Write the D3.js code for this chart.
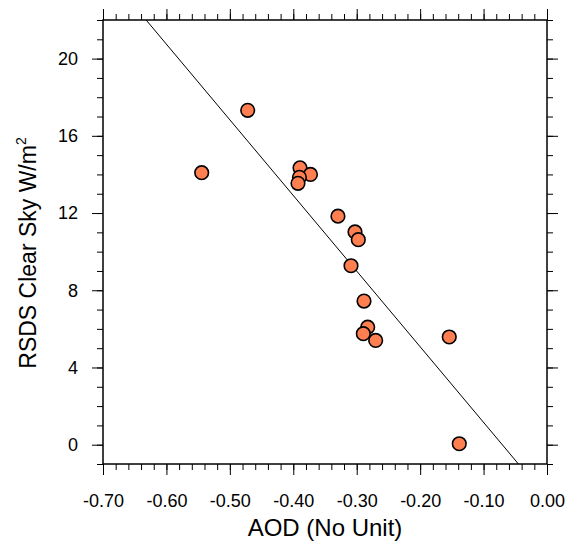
<!DOCTYPE html>
<html>
<head>
<meta charset="utf-8">
<script src="https://cdn.jsdelivr.net/npm/d3@7"></script>
<style>
  html, body { margin: 0; padding: 0; background: #fff; }
  svg { display: block; }
  text { font-family: "Liberation Sans", Arial, Helvetica, sans-serif; fill: #000; }
</style>
</head>
<body>
<svg id="chart" width="567" height="547"></svg>
<script>
// ---- data ----
const aod   = [-0.4719, -0.5444, -0.3894, -0.3729, -0.3903, -0.3926, -0.3296, -0.3027, -0.2975, -0.3090, -0.2885, -0.2827, -0.2896, -0.2701, -0.1541, -0.1383];
const rsds  = [17.32, 14.09, 14.34, 14.00, 13.85, 13.54, 11.84, 11.02, 10.62, 9.27, 7.44, 6.09, 5.75, 5.40, 5.58, 0.05];
const fitX  = [-0.632, -0.045];
const fitY  = [22, -1];
const xTicks = [-0.7, -0.6, -0.5, -0.4, -0.3, -0.2, -0.1, 0.0];
const xTickLabels = ["-0.70", "-0.60", "-0.50", "-0.40", "-0.30", "-0.20", "-0.10", "0.00"];
const yTicks = [0, 4, 8, 12, 16, 20];
const yTickLabels = ["0", "4", "8", "12", "16", "20"];
const xLabel = "AOD (No Unit)";
const yLabel = "RSDS Clear Sky W/m";

// ---- layout ----
const L = 103, R = 547, T = 20, B = 464;
const svg = d3.select("#chart");
const x = d3.scaleLinear().domain([-0.7, 0]).range([L, R]);
const y = d3.scaleLinear().domain([-1, 22]).range([B, T]);

const xMinor = d3.range(-0.70, 0.0001, 0.02).map(v => +v.toFixed(2));
const yMinor = d3.range(-1, 22.001, 1);

// clip
svg.append("clipPath").attr("id", "clip")
  .append("rect").attr("x", L).attr("y", T).attr("width", R - L).attr("height", B - T);

function styleAxis(g) {
  g.select(".domain").remove();
  g.selectAll("line").attr("stroke", "#000").attr("stroke-width", 1);
}
// minor ticks
svg.append("g").attr("transform", `translate(0,${B})`)
  .call(d3.axisBottom(x).tickValues(xMinor).tickSize(6).tickFormat("")).call(styleAxis);
svg.append("g").attr("transform", `translate(0,${T})`)
  .call(d3.axisTop(x).tickValues(xMinor).tickSize(6).tickFormat("")).call(styleAxis);
svg.append("g").attr("transform", `translate(${L},0)`)
  .call(d3.axisLeft(y).tickValues(yMinor).tickSize(6).tickFormat("")).call(styleAxis);
svg.append("g").attr("transform", `translate(${R},0)`)
  .call(d3.axisRight(y).tickValues(yMinor).tickSize(6).tickFormat("")).call(styleAxis);

// major ticks
const gxb = svg.append("g").attr("transform", `translate(0,${B})`)
  .call(d3.axisBottom(x).tickValues(xTicks).tickSize(11).tickPadding(19)
    .tickFormat((d, i) => xTickLabels[i])).call(styleAxis);
gxb.selectAll("text").attr("font-size", 18).attr("font-family", "Liberation Sans, Arial, sans-serif").attr("fill", "#000");
svg.append("g").attr("transform", `translate(0,${T})`)
  .call(d3.axisTop(x).tickValues(xTicks).tickSize(11).tickFormat("")).call(styleAxis);
const gyl = svg.append("g").attr("transform", `translate(${L},0)`)
  .call(d3.axisLeft(y).tickValues(yTicks).tickSize(11).tickPadding(14)
    .tickFormat((d, i) => yTickLabels[i])).call(styleAxis);
gyl.selectAll("text").attr("font-size", 18).attr("font-family", "Liberation Sans, Arial, sans-serif").attr("fill", "#000");
svg.append("g").attr("transform", `translate(${R},0)`)
  .call(d3.axisRight(y).tickValues(yTicks).tickSize(11).tickFormat("")).call(styleAxis);

// frame
svg.append("rect").attr("x", L).attr("y", T).attr("width", R - L).attr("height", B - T)
  .attr("fill", "none").attr("stroke", "#000").attr("stroke-width", 1.5);

// regression line
const lineData = fitX.map((v, i) => [v, fitY[i]]);
svg.append("path").datum(lineData)
  .attr("clip-path", "url(#clip)")
  .attr("d", d3.line().x(d => x(d[0])).y(d => y(d[1])))
  .attr("fill", "none").attr("stroke", "#000").attr("stroke-width", 1);

// points
svg.append("g").selectAll("circle").data(aod.map((v, i) => [v, rsds[i]]))
  .join("circle")
  .attr("cx", d => x(d[0])).attr("cy", d => y(d[1]))
  .attr("r", 6.8)
  .attr("fill", "#FF7F50").attr("stroke", "#000").attr("stroke-width", 1.6);

// axis labels
svg.append("text").attr("x", (L + R) / 2).attr("y", 536)
  .attr("text-anchor", "middle").attr("font-size", 24)
  .text(xLabel);

const yl = svg.append("text")
  .attr("transform", `translate(36,${253}) rotate(-90)`)
  .attr("text-anchor", "middle").attr("font-size", 23);
yl.append("tspan").text(yLabel);
yl.append("tspan").attr("font-size", 14).attr("dy", -10).text("2");
</script>
</body>
</html>
